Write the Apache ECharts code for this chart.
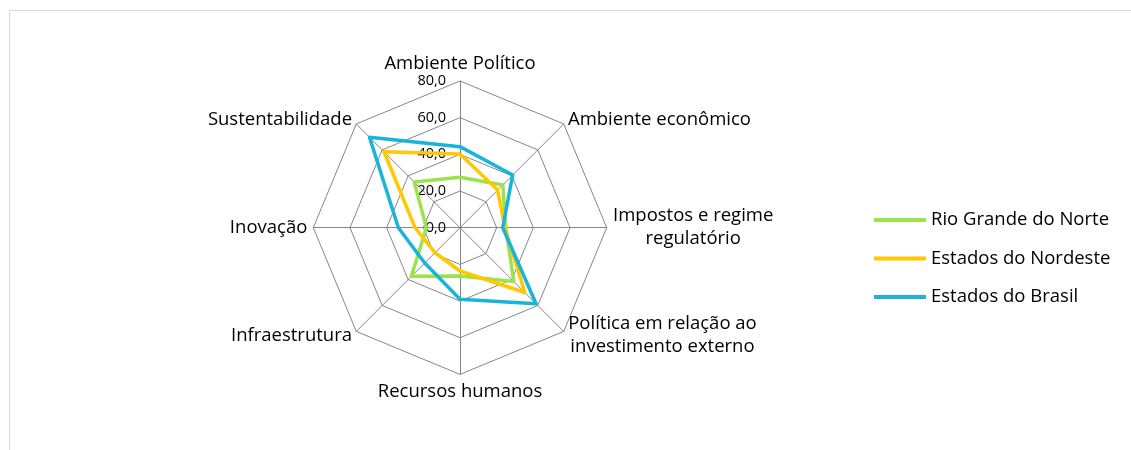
<!DOCTYPE html>
<html>
<head>
<meta charset="utf-8">
<script src="https://cdn.jsdelivr.net/npm/echarts@6/dist/echarts.min.js"></script>
<style>
  html, body { margin: 0; padding: 0; background: #fff; }
  #chart { width: 1131px; height: 450px; }
</style>
</head>
<body>
<div id="chart"></div>
<script>
// indicadores, no sentido horario a partir do topo
var indicators = [
  "Ambiente Político",
  "Ambiente econômico",
  "Impostos e regime\nregulatório",
  "Política em relação ao\ninvestimento externo",
  "Recursos humanos",
  "Infraestrutura",
  "Inovação",
  "Sustentabilidade"
];
var seriesNames = ["Rio Grande do Norte", "Estados do Nordeste", "Estados do Brasil"];
var rioGrandeNorte = [27.5, 33.0, 25.0, 41.5, 26.3, 37.5, 18.3, 35.3];
var estadosNordeste = [40.2, 29.0, 24.5, 50.0, 23.6, 19.3, 24.5, 58.6];
var estadosBrasil = [44.2, 40.6, 23.3, 58.7, 39.0, 27.2, 33.6, 69.8];
var axisTicks = [0, 20, 40, 60, 80];
var colors = ["#9BE24B", "#FFC800", "#19B4D9"];

var FONT = "Open Sans";
var NAME_SIZE = 18.5;

// echarts desenha o radar no sentido anti-horario: inverte mantendo o primeiro
function toCcw(arr) {
  return [arr[0]].concat(arr.slice(1).reverse());
}

// largura da maior linha, para centralizar nomes com duas linhas
var measureCtx = document.createElement("canvas").getContext("2d");
measureCtx.font = NAME_SIZE + "px '" + FONT + "'";
function maxLineWidth(text) {
  return Math.max.apply(null, text.split("\n").map(function (l) {
    return Math.ceil(measureCtx.measureText(l).width);
  }));
}

var rich = {};
indicators.forEach(function (n, i) {
  if (n.indexOf("\n") >= 0) {
    rich["c" + i] = {
      width: maxLineWidth(n), align: "center",
      fontFamily: FONT, fontSize: NAME_SIZE, lineHeight: 23, color: "#000"
    };
  }
});

var chart = echarts.init(document.getElementById("chart"));

var option = {
  animation: false,
  color: colors,
  textStyle: { fontFamily: FONT },
  graphic: [
    {
      type: "rect",
      shape: { x: 9.5, y: 10.5, width: 1200, height: 500 },
      style: { fill: "none", stroke: "#d9d9d9", lineWidth: 1 },
      silent: true
    }
  ],
  legend: {
    orient: "vertical",
    left: 869,
    top: 204,
    icon: "rect",
    itemWidth: 52,
    itemHeight: 4,
    itemGap: 16.5,
    data: seriesNames,
    textStyle: { fontFamily: FONT, fontSize: NAME_SIZE, color: "#000", lineHeight: 22 }
  },
  grid: { left: 460, top: 81, width: 1, height: 146.7 },
  xAxis: { type: "value", show: false },
  yAxis: {
    type: "value",
    min: axisTicks[0],
    max: axisTicks[axisTicks.length - 1],
    interval: 20,
    axisLine: { show: false },
    axisTick: { show: false },
    splitLine: { show: false },
    axisLabel: {
      margin: 14,
      fontFamily: FONT,
      fontSize: 14.5,
      color: "#000",
      formatter: function (v) { return v.toFixed(1).replace(".", ","); }
    }
  },
  radar: {
    center: [460, 227.7],
    radius: 146.7,
    shape: "polygon",
    splitNumber: 4,
    startAngle: 90,
    nameGap: 6,
    indicator: toCcw(indicators).map(function (n) {
      return { name: n, min: 0, max: 80 };
    }),
    axisName: {
      color: "#000",
      fontFamily: FONT,
      fontSize: NAME_SIZE,
      lineHeight: 23,
      formatter: function (name) {
        var i = indicators.indexOf(name);
        if (name.indexOf("\n") < 0) return name;
        return name.split("\n").map(function (l) { return "{c" + i + "|" + l + "}"; }).join("\n");
      },
      rich: rich
    },
    axisLine: { lineStyle: { color: "#868686", width: 1 } },
    splitLine: { lineStyle: { color: "#868686", width: 1 } },
    splitArea: { show: false }
  },
  series: [
    {
      type: "radar",
      symbol: "none",
      lineStyle: { width: 3.5 },
      data: [
        { name: seriesNames[0], value: toCcw(rioGrandeNorte) },
        { name: seriesNames[1], value: toCcw(estadosNordeste) },
        { name: seriesNames[2], value: toCcw(estadosBrasil) }
      ]
    }
  ]
};

chart.setOption(option);
</script>
</body>
</html>
